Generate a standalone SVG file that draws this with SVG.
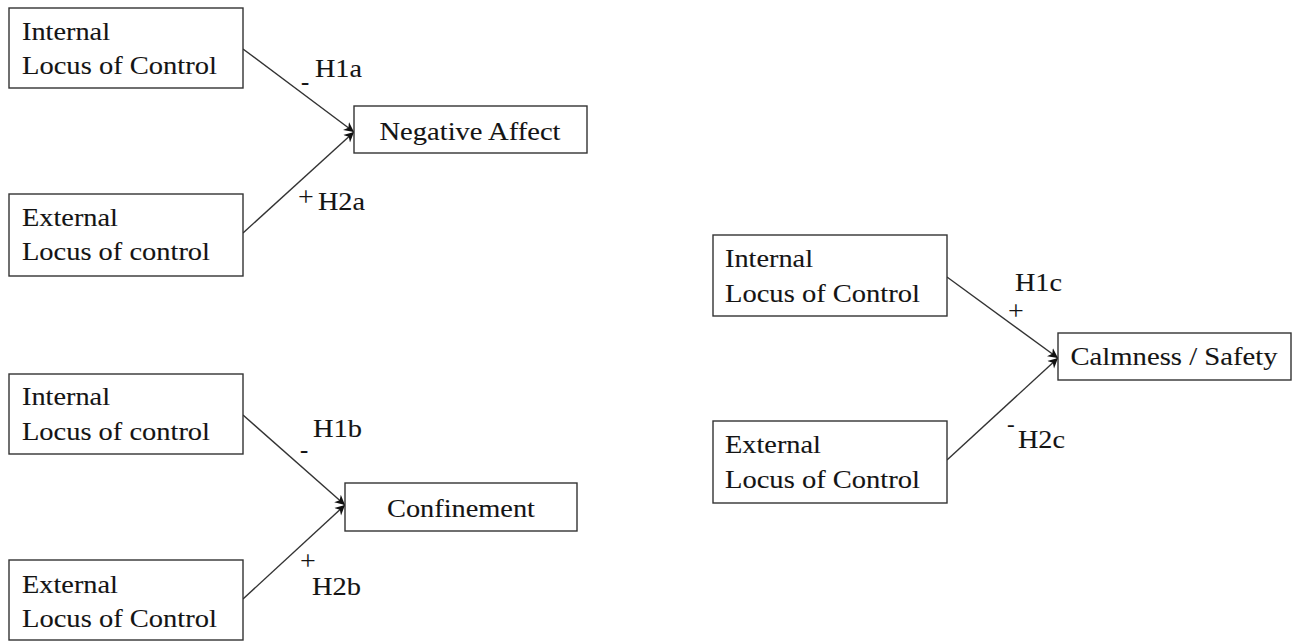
<svg xmlns="http://www.w3.org/2000/svg" width="1297" height="641" viewBox="0 0 1297 641">
<defs>
<style>
.box{fill:#ffffff;stroke:#333333;stroke-width:1.4}
.t{font-family:"Liberation Serif","Times New Roman",serif;font-size:24.5px;fill:#141414;stroke:#141414;stroke-width:0.1}
.c{text-anchor:middle}
.s{font-family:"Liberation Serif","Times New Roman",serif;font-size:23px;fill:#141414}
.p{font-family:"Liberation Serif","Times New Roman",serif;font-size:28px;fill:#141414}
.edge{stroke:#333333;stroke-width:1.4;fill:none;marker-end:url(#arr)}
</style>
<marker id="arr" markerUnits="userSpaceOnUse" markerWidth="12" markerHeight="12" refX="10" refY="5" orient="auto" viewBox="0 0 12 10">
<path d="M0,0 L10,5 L0,10 L3,5 Z" fill="#111111"/>
</marker>
</defs>
<rect width="1297" height="641" fill="#ffffff"/>

<g id="connectors">
<line class="edge" x1="243" y1="49" x2="354" y2="132"/>
<line class="edge" x1="243" y1="233" x2="354" y2="132"/>
<line class="edge" x1="243" y1="415" x2="345" y2="505"/>
<line class="edge" x1="243" y1="599" x2="345" y2="505"/>
<line class="edge" x1="947" y1="277" x2="1058" y2="358"/>
<line class="edge" x1="947" y1="460" x2="1058" y2="358"/>
</g>

<g id="labels">
<text class="t" x="301" y="90">-</text>
<text class="t" x="315" y="77" textLength="47" lengthAdjust="spacingAndGlyphs">H1a</text>
<text class="p" x="298" y="206">+</text>
<text class="t" x="318" y="210" textLength="47" lengthAdjust="spacingAndGlyphs">H2a</text>
<text class="t" x="300" y="458">-</text>
<text class="t" x="313" y="437" textLength="49" lengthAdjust="spacingAndGlyphs">H1b</text>
<text class="p" x="300" y="570">+</text>
<text class="t" x="312" y="595" textLength="49" lengthAdjust="spacingAndGlyphs">H2b</text>
<text class="t" x="1015" y="291" textLength="47" lengthAdjust="spacingAndGlyphs">H1c</text>
<text class="p" x="1008" y="320">+</text>
<text class="s" x="1007" y="432">-</text>
<text class="t" x="1018" y="448" textLength="47" lengthAdjust="spacingAndGlyphs">H2c</text>
</g>

<g id="internal-a">
<rect class="box" x="9" y="8" width="234" height="80"/>
<text class="t" x="22" y="40" textLength="88" lengthAdjust="spacingAndGlyphs">Internal</text>
<text class="t" x="22" y="74" textLength="195" lengthAdjust="spacingAndGlyphs">Locus of Control</text>
</g>
<g id="external-a">
<rect class="box" x="9" y="194" width="234" height="82"/>
<text class="t" x="22" y="226" textLength="96" lengthAdjust="spacingAndGlyphs">External</text>
<text class="t" x="22" y="260" textLength="188" lengthAdjust="spacingAndGlyphs">Locus of control</text>
</g>
<g id="negative-affect">
<rect class="box" x="354" y="106" width="233" height="47"/>
<text class="t c" x="470" y="140" textLength="181" lengthAdjust="spacingAndGlyphs">Negative Affect</text>
</g>

<g id="internal-b">
<rect class="box" x="9" y="374" width="234" height="80"/>
<text class="t" x="22" y="405" textLength="88" lengthAdjust="spacingAndGlyphs">Internal</text>
<text class="t" x="22" y="440" textLength="188" lengthAdjust="spacingAndGlyphs">Locus of control</text>
</g>
<g id="external-b">
<rect class="box" x="9" y="560" width="234" height="80"/>
<text class="t" x="22" y="593" textLength="96" lengthAdjust="spacingAndGlyphs">External</text>
<text class="t" x="22" y="627" textLength="195" lengthAdjust="spacingAndGlyphs">Locus of Control</text>
</g>
<g id="confinement">
<rect class="box" x="345" y="483" width="232" height="48"/>
<text class="t c" x="461" y="517" textLength="148" lengthAdjust="spacingAndGlyphs">Confinement</text>
</g>

<g id="internal-c">
<rect class="box" x="713" y="235" width="234" height="81"/>
<text class="t" x="725" y="267" textLength="88" lengthAdjust="spacingAndGlyphs">Internal</text>
<text class="t" x="725" y="302" textLength="195" lengthAdjust="spacingAndGlyphs">Locus of Control</text>
</g>
<g id="external-c">
<rect class="box" x="713" y="421" width="234" height="82"/>
<text class="t" x="725" y="453" textLength="96" lengthAdjust="spacingAndGlyphs">External</text>
<text class="t" x="725" y="488" textLength="195" lengthAdjust="spacingAndGlyphs">Locus of Control</text>
</g>
<g id="calmness-safety">
<rect class="box" x="1058" y="333" width="233" height="47"/>
<text class="t c" x="1174" y="365" textLength="207" lengthAdjust="spacingAndGlyphs">Calmness / Safety</text>
</g>
</svg>
